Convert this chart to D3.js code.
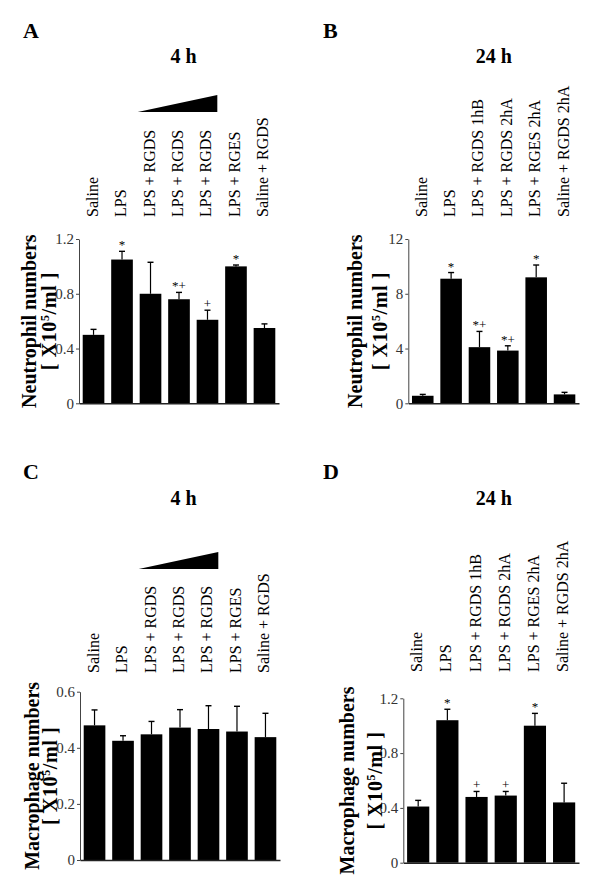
<!DOCTYPE html>
<html>
<head>
<meta charset="utf-8">
<script src="https://cdn.jsdelivr.net/npm/d3@7"></script>
<style>
  html, body { margin: 0; padding: 0; background: #fff; }
  svg { display: block; font-family: "Liberation Serif", "Times New Roman", serif; }
</style>
</head>
<body>
<svg id="chart" width="600" height="892"></svg>
<script>
// ---------- data ----------
const cats4h = ["Saline", "LPS", "LPS + RGDS", "LPS + RGDS", "LPS + RGDS", "LPS + RGES", "Saline + RGDS"];
const cats24h = ["Saline", "LPS", "LPS + RGDS 1hB", "LPS + RGDS 2hA", "LPS + RGES 2hA", "Saline + RGDS 2hA"];

const neutro4h     = [0.50, 1.05, 0.80, 0.76, 0.61, 1.00, 0.55];
const neutro4hErr  = [0.04, 0.06, 0.23, 0.05, 0.07, 0.01, 0.03];
const neutro4hSig  = ["", "*", "", "*+", "+", "*", ""];

const neutro24h    = [0.55, 9.1, 4.1, 3.85, 9.2, 0.65];
const neutro24hErr = [0.10, 0.45, 1.15, 0.35, 0.90, 0.15];
const neutro24hSig = ["", "*", "*+", "*+", "*", ""];

const macro4h      = [0.48, 0.425, 0.448, 0.472, 0.467, 0.458, 0.438];
const macro4hErr   = [0.055, 0.018, 0.046, 0.064, 0.083, 0.09, 0.085];
const macro4hSig   = ["", "", "", "", "", "", ""];

const macro24h     = [0.41, 1.04, 0.48, 0.49, 1.00, 0.44];
const macro24hErr  = [0.045, 0.08, 0.04, 0.03, 0.09, 0.14];
const macro24hSig  = ["", "*", "+", "+", "*", ""];

const ticksNeutro4h  = [0, 0.4, 0.8, 1.2];
const ticksNeutro24h = [0, 4, 8, 12];
const ticksMacro4h   = [0, 0.2, 0.4, 0.6];
const ticksMacro24h  = [0, 0.4, 0.8, 1.2];

const tickLabelsNeutro4h  = ["0", "0.4", "0.8", "1.2"];
const tickLabelsNeutro24h = ["0", "4", "8", "12"];
const tickLabelsMacro4h   = ["0", "0.2", "0.4", "0.6"];
const tickLabelsMacro24h  = ["0", "0.4", "0.8", "1.2"];

const panelLetters = ["A", "B", "C", "D"];
const panelTitles  = ["4 h", "24 h", "4 h", "24 h"];
const yTitles      = ["Neutrophil numbers", "Neutrophil numbers", "Macrophage numbers", "Macrophage numbers"];

// ---------- layout ----------
const panels = [
  { cats: cats4h,  vals: neutro4h,  errs: neutro4hErr,  sig: neutro4hSig,  ticks: ticksNeutro4h,  tlab: tickLabelsNeutro4h,
    x0: 79, x1: 279, yTop: 239, yBot: 403.3, labBottom: 217, letter: [23, 38], title: [183.5, 63], yl1: 29, yl2: 49, wedge: [95, 112] },
  { cats: cats24h, vals: neutro24h, errs: neutro24hErr, sig: neutro24hSig, ticks: ticksNeutro24h, tlab: tickLabelsNeutro24h,
    x0: 408.3, x1: 579, yTop: 239, yBot: 403.3, labBottom: 217, letter: [323, 38], title: [493.7, 63], yl1: 355, yl2: 380, wedge: null },
  { cats: cats4h,  vals: macro4h,   errs: macro4hErr,   sig: macro4hSig,   ticks: ticksMacro4h,   tlab: tickLabelsMacro4h,
    x0: 80, x1: 280, yTop: 691.7, yBot: 860, labBottom: 673, letter: [23, 479], title: [183.5, 505], yl1: 32, yl2: 50, wedge: [552, 569] },
  { cats: cats24h, vals: macro24h,  errs: macro24hErr,  sig: macro24hSig,  ticks: ticksMacro24h,  tlab: tickLabelsMacro24h,
    x0: 403.3, x1: 579, yTop: 698.3, yBot: 862.7, labBottom: 672, letter: [323, 479], title: [493.7, 505], yl1: 347, yl2: 375, wedge: null }
];

const svg = d3.select("#chart");

panels.forEach((p, pi) => {
  const g = svg.append("g");
  const idx = d3.range(p.cats.length);
  const x = d3.scaleBand().domain(idx).range([p.x0, p.x1]).paddingInner(0.24).paddingOuter(0.13);
  const ymax = p.ticks[p.ticks.length - 1];
  const y = d3.scaleLinear().domain([0, ymax]).range([p.yBot, p.yTop]);

  // panel letter
  g.append("text").attr("x", p.letter[0]).attr("y", p.letter[1])
    .attr("font-size", 22).attr("font-weight", "bold").attr("fill", "#000").text(panelLetters[pi]);
  // title
  g.append("text").attr("x", p.title[0]).attr("y", p.title[1]).attr("text-anchor", "middle")
    .attr("font-size", 20).attr("font-weight", "bold").attr("fill", "#000").text(panelTitles[pi]);

  // dose wedge
  if (p.wedge) {
    const xl = x(2) - 2, xr = x(4) + x.bandwidth() - 1;
    g.append("path")
      .attr("d", `M${xl},${p.wedge[1]} L${xr},${p.wedge[1]} L${xr},${p.wedge[0]} Z`)
      .attr("fill", "#000");
  }

  // category labels
  g.selectAll("text.cat").data(idx).join("text").attr("class", "cat")
    .attr("transform", i => `translate(${x(i) + x.bandwidth() / 2 + 4},${p.labBottom}) rotate(-90)`)
    .attr("font-size", 16).attr("fill", "#000")
    .text(i => p.cats[i]);

  // bars
  g.selectAll("rect.bar").data(idx).join("rect").attr("class", "bar")
    .attr("x", i => x(i)).attr("width", x.bandwidth())
    .attr("y", i => y(p.vals[i])).attr("height", i => y(0) - y(p.vals[i]))
    .attr("fill", "#000");

  // error bars (upper only)
  const cap = 3;
  idx.forEach(i => {
    const cx = x(i) + x.bandwidth() / 2;
    const yt = y(p.vals[i] + p.errs[i]);
    g.append("line").attr("x1", cx).attr("x2", cx).attr("y1", y(p.vals[i])).attr("y2", yt)
      .attr("stroke", "#000").attr("stroke-width", 1.2);
    g.append("line").attr("x1", cx - cap).attr("x2", cx + cap).attr("y1", yt).attr("y2", yt)
      .attr("stroke", "#000").attr("stroke-width", 1.4);
    if (p.sig[i]) {
      g.append("text").attr("x", cx).attr("y", yt - 2).attr("text-anchor", "middle")
        .attr("font-size", 13).attr("fill", "#000").text(p.sig[i]);
    }
  });

  // y axis
  const yAxis = d3.axisLeft(y).tickValues(p.ticks).tickSize(3).tickSizeOuter(0).tickPadding(2)
    .tickFormat((d, k) => p.tlab[k]);
  const ga = g.append("g").attr("transform", `translate(${p.x0},0)`).call(yAxis);
  ga.select(".domain").attr("stroke", "#444").attr("stroke-width", 1);
  ga.selectAll(".tick line").attr("stroke", "#444");
  ga.selectAll(".tick text").attr("font-size", 15).attr("fill", "#333")
    .attr("font-family", "Liberation Serif, Times New Roman, serif");

  // x axis baseline
  const xAxis = d3.axisBottom(x).tickValues([]).tickSizeOuter(0);
  const gx = g.append("g").attr("transform", `translate(0,${p.yBot})`).call(xAxis);
  gx.select(".domain").attr("stroke", "#222").attr("stroke-width", 1.4);

  // y titles
  const ymid = (p.yTop + p.yBot) / 2;
  g.append("text").attr("transform", `translate(${p.yl1},${ymid}) rotate(-90)`)
    .attr("dy", "0.35em").attr("text-anchor", "middle")
    .attr("font-size", 20).attr("font-weight", "bold").attr("fill", "#000")
    .text(yTitles[pi]);
  const t2 = g.append("text").attr("transform", `translate(${p.yl2},${ymid}) rotate(-90)`)
    .attr("dy", "0.35em").attr("text-anchor", "middle")
    .attr("font-size", 20).attr("font-weight", "bold").attr("fill", "#000")
    .attr("letter-spacing", 0.6);
  t2.append("tspan").text("[ X10");
  t2.append("tspan").attr("font-size", 12).attr("dy", "-0.55em").text("5");
  t2.append("tspan").attr("dy", "0.35em").text("/ml ]");
});
</script>
</body>
</html>
